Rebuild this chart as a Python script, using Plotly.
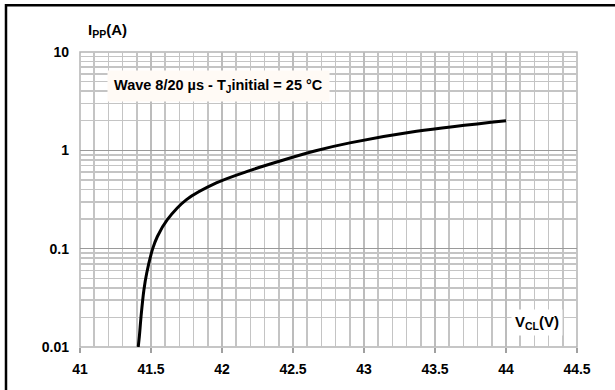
import plotly.graph_objects as go

# Data
v_cl = [41.41, 41.418, 41.43, 41.45, 41.47, 41.512, 41.545, 41.615, 41.75, 41.96, 42.2, 42.41, 42.66, 42.9, 43.37, 44.0]
i_pp = [0.01, 0.0128, 0.0205, 0.038, 0.0566, 0.1, 0.133, 0.197, 0.315, 0.466, 0.626, 0.78, 0.99, 1.19, 1.56, 2.0]

x_ticks = [41, 41.5, 42, 42.5, 43, 43.5, 44, 44.5]
x_tick_text = ["41", "41.5", "42", "42.5", "43", "43.5", "44", "44.5"]
y_ticks = [0.01, 0.1, 1, 10]
y_tick_text = ["0.01", "0.1", "1", "10"]
y_minor = [m * d for d in (0.01, 0.1, 1) for m in range(2, 10)]

FONT = "Liberation Sans, Arial, sans-serif"

fig = go.Figure()
fig.add_trace(go.Scatter(
    x=v_cl, y=i_pp, mode="lines", line=dict(color="black", width=3, shape="spline", smoothing=1.0),
    hoverinfo="skip", showlegend=False,
))

fig.update_layout(
    width=615, height=390,
    margin=dict(l=80, r=38, t=52, b=43),
    paper_bgcolor="white", plot_bgcolor="white",
    font=dict(family=FONT, color="black"),
    showlegend=False,
)

fig.update_xaxes(
    range=[41, 44.5], tickvals=x_ticks, ticktext=x_tick_text,
    tickfont=dict(size=14, family=FONT, weight="bold"),
    ticks="outside", ticklen=5, tickcolor="#a0a0a0", tickwidth=1.5,
    ticklabelstandoff=4,
    showgrid=True, gridcolor="#bcbcbc", gridwidth=1.5,
    minor=dict(dtick=0.1, tick0=41, showgrid=True, gridcolor="#c4c4c4", gridwidth=1.5, ticks=""),
    showline=False, zeroline=False,
)
fig.update_yaxes(
    type="log", range=[-2, 1], tickvals=y_ticks, ticktext=y_tick_text,
    tickfont=dict(size=14, family=FONT, weight="bold"),
    ticks="", ticklabelstandoff=10,
    showgrid=True, gridcolor="#9a9a9a", gridwidth=1.5,
    minor=dict(tickvals=y_minor, showgrid=True, gridcolor="#c4c4c4", gridwidth=1.5, ticks=""),
    showline=False, zeroline=False,
)

# plot frame lines
fig.add_shape(type="rect", xref="paper", yref="paper", x0=0, x1=1, y0=0, y1=1,
              line=dict(color="#b4b4b4", width=1.5), layer="below")

# outer black border
fig.add_shape(type="rect", xref="paper", yref="paper",
              x0=-0.1489, x1=1.09, y0=-0.17, y1=1.1583,
              line=dict(color="black", width=2.5))

fig.add_annotation(
    xref="paper", yref="paper", x=0.012, y=1.035, xanchor="left", yanchor="bottom",
    text="I<sub>PP</sub>(A)", showarrow=False,
    font=dict(size=15, family=FONT, weight="bold"),
)
fig.add_annotation(
    xref="x", yref="y", x=44.22, y=-1.75, xanchor="center", yanchor="middle",
    text="V<sub>CL</sub>(V)", showarrow=False, bgcolor="white", borderpad=3,
    font=dict(size=15, family=FONT, weight="bold"),
)
fig.add_annotation(
    xref="x", yref="y", x=41.19, y=0.652, xanchor="left", yanchor="middle",
    text="Wave 8/20 µs - T<sub>J</sub>initial = 25 °C", showarrow=False,
    bgcolor="#fffaf5", borderpad=6,
    font=dict(size=14.5, family=FONT, weight="bold"),
)

fig.write_html("out.html", config={"displayModeBar": False, "staticPlot": True})

# remove the browser's default body margin so the figure sits at the page origin
with open("out.html", "r", encoding="utf-8") as f:
    html = f.read()
html = html.replace("<head>", "<head><style>body{margin:0;}</style>", 1)
with open("out.html", "w", encoding="utf-8") as f:
    f.write(html)
